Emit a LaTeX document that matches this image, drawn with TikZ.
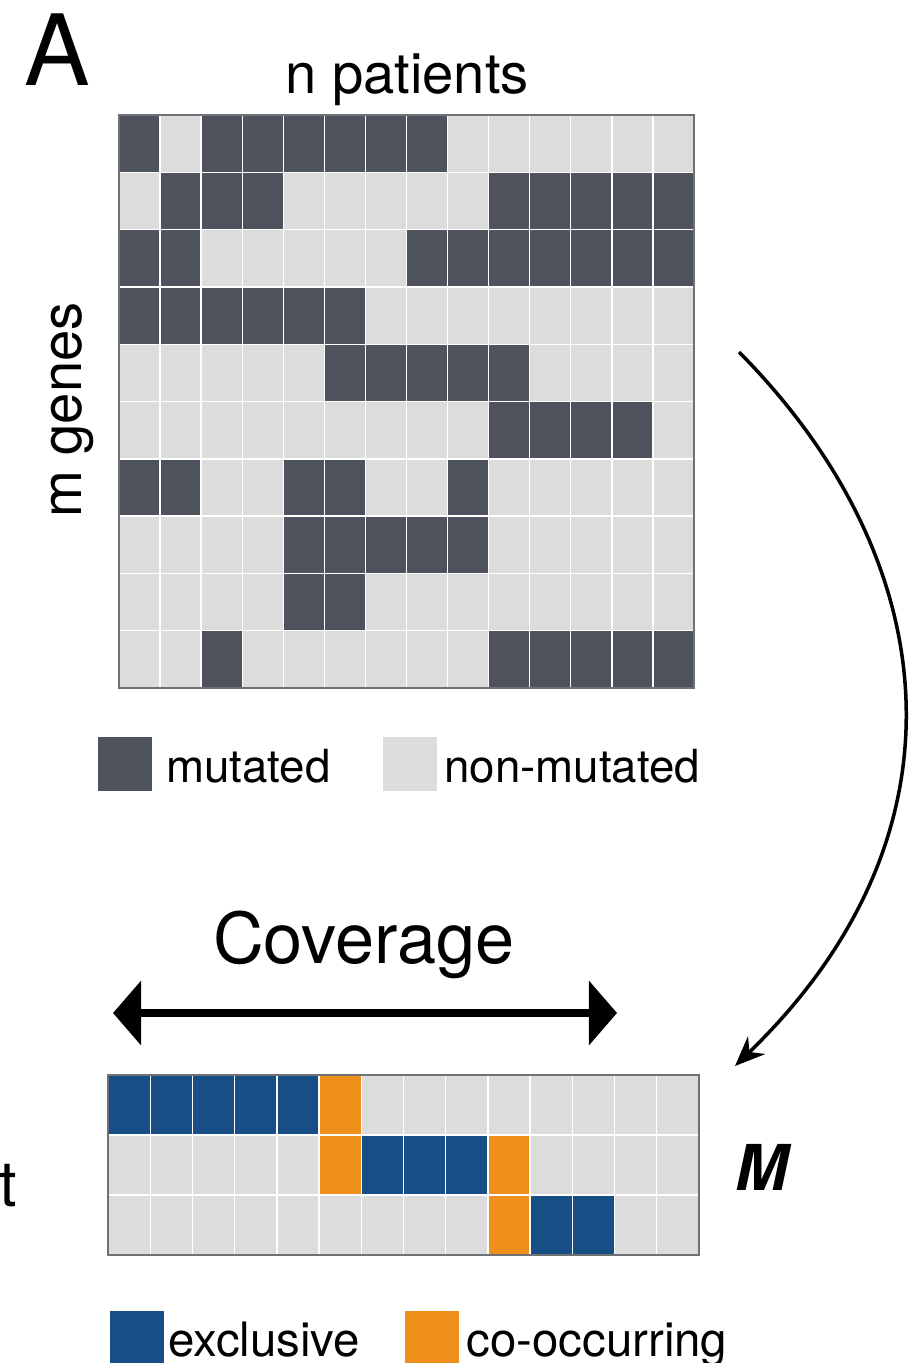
\documentclass[tikz,border=0pt]{standalone}
\usepackage{fontspec}
\setmainfont{TeX Gyre Heros}
\usetikzlibrary{arrows.meta}

% 格子颜色: c0 未突变, c1 突变, c2 互斥, c3 共现
\definecolor{c0}{HTML}{DCDCDC}
\definecolor{c1}{HTML}{4E525C}
\definecolor{c2}{HTML}{164E85}
\definecolor{c3}{HTML}{F0901C}
\definecolor{framegray}{HTML}{6E7176}

\begin{document}
\begin{tikzpicture}[x=0.02cm, y=-0.02cm,
    cell/.style={draw=white, line width=0.8pt},
    frame/.style={draw=framegray, line width=1.2pt},
    swatch/.style={minimum size=30.6pt, inner sep=0pt, anchor=north west},
    lbl/.style={inner sep=0pt, font=\fontsize{#1}{#1}\selectfont}
]
    % 画布: 1 单位 = 0.02cm, y 轴向下
    \useasboundingbox (0,0) rectangle (914,1363);

    % 上方矩阵: 10 行 x 14 列, 格子 41.07 x 57.3
    \foreach \row [count=\r from 0] in {
        {1,0,1,1,1,1,1,1,0,0,0,0,0,0},
        {0,1,1,1,0,0,0,0,0,1,1,1,1,1},
        {1,1,0,0,0,0,0,1,1,1,1,1,1,1},
        {1,1,1,1,1,1,0,0,0,0,0,0,0,0},
        {0,0,0,0,0,1,1,1,1,1,0,0,0,0},
        {0,0,0,0,0,0,0,0,0,1,1,1,1,0},
        {1,1,0,0,1,1,0,0,1,0,0,0,0,0},
        {0,0,0,0,1,1,1,1,1,0,0,0,0,0},
        {0,0,0,0,1,1,0,0,0,0,0,0,0,0},
        {0,0,1,0,0,0,0,0,0,1,1,1,1,1}} {
        \foreach \v [count=\c from 0] in \row
            \filldraw[cell, fill=c\v] ({119+\c*41.07},{115+\r*57.3}) rectangle ++(41.07,57.3);
    }
    \draw[frame] (119,115) rectangle (694,688);

    % 下方矩阵 M: 3 行 x 14 列
    \foreach \row [count=\r from 0] in {
        {2,2,2,2,2,3,0,0,0,0,0,0,0,0},
        {0,0,0,0,0,3,2,2,2,3,0,0,0,0},
        {0,0,0,0,0,0,0,0,0,3,2,2,0,0}} {
        \foreach \v [count=\c from 0] in \row
            \filldraw[cell, fill=c\v] ({108+\c*42.21},{1075+\r*60}) rectangle ++(42.21,60);
    }
    \draw[frame] (108,1075) rectangle (699,1255);

    % 文字
    \node[lbl=56, anchor=base west] (panel) at (24,85) {A};
    \node[lbl=32, anchor=base] (patients) at (407,93) {n patients};
    \node[lbl=32, anchor=base, rotate=90] (genes) at (81,410) {m genes};
    \node[lbl=40, anchor=base] (coverage) at (364,963) {Coverage};
    \node[lbl=36, anchor=base west] (tlabel) at (-1,1206) {t};
    \node[inner sep=0pt, anchor=base west, font=\fontsize{36}{36}\selectfont\bfseries\itshape]
        (mname) at (735,1190) {M};

    % 图例
    \node[swatch, fill=c1] (keymut) at (98,737) {};
    \node[lbl=26, anchor=base west] (keymuttxt) at (166,782) {mutated};
    \node[swatch, fill=c0] (keynon) at (383,737) {};
    \node[lbl=26, anchor=base west] (keynontxt) at (444,782) {non-mutated};
    \node[swatch, fill=c2] (keyexc) at (110,1311) {};
    \node[lbl=27, anchor=base west] (keyexctxt) at (168,1356) {exclusive};
    \node[swatch, fill=c3] (keyco) at (405,1311) {};
    \node[lbl=27, anchor=base west] (keycotxt) at (466,1356) {co-occurring};

    % 箭头
    \coordinate (covL) at (113,1013);
    \coordinate (covR) at (617,1013);
    \draw[{Triangle[length=16pt,width=36pt]}-{Triangle[length=16pt,width=36pt]}, line width=4pt]
        (covL) -- (covR);

    \coordinate (arcstart) at (739,352);
    \coordinate (arcend) at (735,1066);
    \draw[-{Stealth[length=17pt,width=14pt]}, line width=2pt]
        (arcstart) .. controls (945,560) and (975,834) .. (arcend);
\end{tikzpicture}
\end{document}
